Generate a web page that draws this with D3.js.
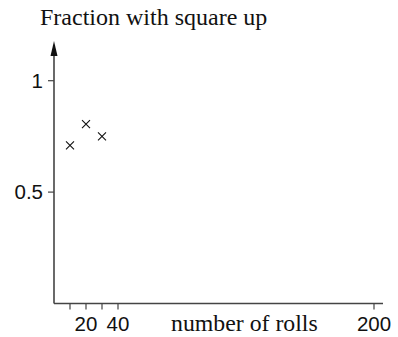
<!DOCTYPE html>
<html>
<head>
<meta charset="utf-8">
<script src="https://cdn.jsdelivr.net/npm/d3@7"></script>
<style>
  body { margin: 0; background: #fff; }
  .serif { font-family: "Liberation Serif", "Times New Roman", serif; fill: #111; }
  .sans { font-family: "Liberation Sans", Arial, sans-serif; fill: #111; }
</style>
</head>
<body>
<div id="chart"></div>
<script>
// data
const rolls = [10, 20, 30];
const fractions = [0.71, 0.805, 0.75];
const xTicks = [10, 20, 30, 40, 200];
const xTickLabels = ["", "20", "", "40", "200"];
const yTicks = [0.5, 1];
const yTickLabels = ["0.5", "1"];

var width = 398, height = 337;
var axisColor = "#444";

var svg = d3.select("#chart").append("svg")
  .attr("width", width)
  .attr("height", height);

var x = d3.scaleLinear().domain([0, 200]).range([54, 374]);
var y = d3.scaleLinear().domain([0, 1]).range([303.5, 80.7]);

// title
svg.append("text")
  .attr("class", "serif")
  .attr("x", 40)
  .attr("y", 25)
  .attr("font-size", 24)
  .text("Fraction with square up");

// x axis line
svg.append("line")
  .attr("x1", x(0)).attr("x2", 383)
  .attr("y1", y(0)).attr("y2", y(0))
  .attr("stroke", axisColor).attr("stroke-width", 1.6);

// y axis line with arrow
svg.append("line")
  .attr("x1", x(0)).attr("x2", x(0))
  .attr("y1", y(0)).attr("y2", 50)
  .attr("stroke", axisColor).attr("stroke-width", 1.6);
svg.append("path")
  .attr("d", "M" + x(0) + ",41 L" + (x(0) - 3.5) + ",56 L" + (x(0) + 3.5) + ",56 Z")
  .attr("fill", "#111");

// x ticks
svg.selectAll(".xtick").data(xTicks).enter().append("line")
  .attr("class", "xtick")
  .attr("x1", d => x(d)).attr("x2", d => x(d))
  .attr("y1", y(0)).attr("y2", y(0) + 6)
  .attr("stroke", axisColor).attr("stroke-width", 1.2);

svg.selectAll(".xlab").data(xTicks).enter().append("text")
  .attr("class", "sans")
  .attr("x", d => x(d))
  .attr("y", 331)
  .attr("text-anchor", "middle")
  .attr("font-size", 20.5)
  .text((d, i) => xTickLabels[i]);

svg.append("text")
  .attr("class", "serif")
  .attr("x", 171)
  .attr("y", 331)
  .attr("font-size", 23.8)
  .text("number of rolls");

// y ticks
svg.selectAll(".ytick").data(yTicks).enter().append("line")
  .attr("class", "ytick")
  .attr("x1", x(0) - 6).attr("x2", x(0))
  .attr("y1", d => y(d)).attr("y2", d => y(d))
  .attr("stroke", axisColor).attr("stroke-width", 1.2);

svg.selectAll(".ylab").data(yTicks).enter().append("text")
  .attr("class", "sans")
  .attr("x", 43)
  .attr("y", d => y(d) + 7)
  .attr("text-anchor", "end")
  .attr("font-size", 20.5)
  .text((d, i) => yTickLabels[i]);

// cross markers
var pts = rolls.map((r, i) => ({ r: r, f: fractions[i] }));
var s = 4;
svg.selectAll(".pt").data(pts).enter().append("path")
  .attr("class", "pt")
  .attr("d", d => {
    var cx = x(d.r), cy = y(d.f);
    return "M" + (cx - s) + "," + (cy - s) + "L" + (cx + s) + "," + (cy + s) +
           "M" + (cx - s) + "," + (cy + s) + "L" + (cx + s) + "," + (cy - s);
  })
  .attr("stroke", "#111")
  .attr("stroke-width", 1.1)
  .attr("fill", "none");
</script>
</body>
</html>
